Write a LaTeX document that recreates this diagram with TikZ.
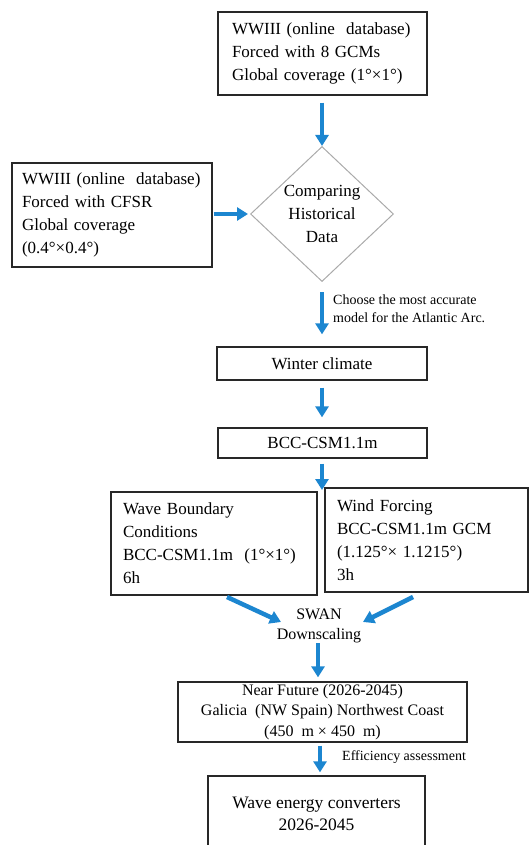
\documentclass[tikz,border=0pt]{standalone}
\usepackage{fontspec}
\setmainfont{Liberation Serif}
\usetikzlibrary{arrows.meta,shapes.geometric}
\definecolor{arrblue}{RGB}{28,134,208}
\definecolor{boxline}{RGB}{40,40,40}
\definecolor{dialine}{RGB}{170,170,170}
\tikzset{
  box/.style={draw=boxline, line width=1.3pt, inner sep=0pt, inner xsep=12pt},
  lbox/.style={box, align=left},
  cbox/.style={box, align=center},
  big/.style={font=\fontsize{17}{23}\selectfont},
  mid/.style={font=\fontsize{16}{20.5}\selectfont},
  small/.style={font=\fontsize{14}{18}\selectfont},
  arr/.style={draw=arrblue, line width=4.5pt, -{Triangle[width=13pt,length=11pt]}},
}
\begin{document}
\begin{tikzpicture}[x=1pt,y=-1pt]
\useasboundingbox (0,0) rectangle (530,845);
% boxes
\node[lbox,big,text width=181pt,minimum height=83pt,inner xsep=14pt] (top) at (322.5,53.5)
  {WWIII (online~ database)\\Forced with 8 GCMs\\Global coverage (1°×1°)};
\node[lbox,big,text width=184pt,minimum height=104pt,inner xsep=8pt] (left) at (112,215)
  {\hspace{2pt}WWIII (online~ database)\\\hspace{2pt}Forced with CFSR\\\hspace{2pt}Global coverage\\\hspace{2pt}(0.4°×0.4°)};
\node[diamond,draw=dialine,line width=1pt,big,align=center,inner sep=0pt,
  minimum width=143pt,minimum height=135pt] (dia) at (322,214)
  {Comparing\\Historical\\Data};
\node[cbox,big,minimum width=210pt,minimum height=33pt] (winter) at (322,363.5) {Winter climate};
\node[cbox,big,minimum width=209pt,minimum height=30pt] (bcc) at (322.5,443) {BCC-CSM1.1m};
\node[lbox,big,text width=182pt,minimum height=103pt] (wave) at (214,543.5)
  {Wave Boundary\\Conditions\\BCC-CSM1.1m~ (1°×1°)\\6h};
\node[lbox,big,text width=179pt,minimum height=104pt] (wind) at (426.5,540)
  {Wind Forcing\\BCC-CSM1.1m GCM\\(1.125°× 1.1215°)\\3h};
\node[mid,align=center,inner sep=0pt] (swan) at (319,626) {SWAN\\Downscaling};
\node[cbox,mid,minimum width=289pt,minimum height=60pt] (near) at (322.5,712)
  {Near Future (2026-2045)\\Galicia~ (NW Spain) Northwest Coast\\(450~ m × 450~ m)};
\node[cbox,font=\fontsize{17.5}{22}\selectfont,minimum width=217pt,minimum height=76pt] (we) at (316.5,814)
  {Wave energy converters\\2026-2045};
% labels
\node[small,align=left,anchor=west,inner sep=0pt] (lab1) at (333,309)
  {Choose the most accurate\\model for the Atlantic Arc.};
\node[small,anchor=west,inner sep=0pt] (lab2) at (342,757) {Efficiency assessment};
% helper coordinates
\coordinate (split) at (322,490);
\coordinate (la) at (227,597);
\coordinate (lb) at (281,622);
\coordinate (ra) at (413,597);
\coordinate (rb) at (363,622);
% arrows
\draw[arr,shorten <=7pt] (top.south -| dia.north) -- (dia.north);
\draw[arr,shorten <=1pt,shorten >=2pt] (left.east |- dia.west) -- (dia.west);
\draw[arr,shorten <=10pt,shorten >=12pt] (dia.south) -- (winter.north -| dia.south);
\draw[arr,shorten <=7pt,shorten >=10pt] (winter.south -| dia.south) -- (bcc.north -| dia.south);
\draw[arr,shorten <=5pt] (bcc.south -| split) -- (split);
\draw[arr] (la) -- (lb);
\draw[arr] (ra) -- (rb);
\draw[arr,shorten <=0pt,shorten >=4pt] (swan.south -| 318,0) -- (near.north -| 318,0);
\draw[arr,shorten <=3pt,shorten >=3pt] (near.south -| 320,0) -- (we.north -| 320,0);
\end{tikzpicture}
\end{document}
